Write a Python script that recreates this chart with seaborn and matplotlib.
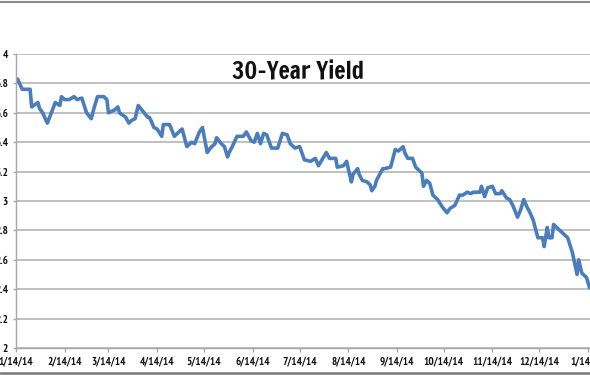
import pandas as pd
import numpy as np
import matplotlib
matplotlib.use("Agg")
import matplotlib.pyplot as plt
import matplotlib.dates as mdates
from matplotlib.ticker import FuncFormatter
import seaborn as sns

# Data
dates = [
    "2014-01-14", "2014-01-15", "2014-01-18", "2014-01-23", "2014-01-24", "2014-01-28", "2014-01-29",
    "2014-01-31", "2014-02-03", "2014-02-07", "2014-02-08", "2014-02-11", "2014-02-12", "2014-02-14",
    "2014-02-17", "2014-02-20", "2014-02-22", "2014-02-25", "2014-02-28", "2014-03-03", "2014-03-05",
    "2014-03-07", "2014-03-11", "2014-03-13", "2014-03-14", "2014-03-18", "2014-03-20", "2014-03-21",
    "2014-03-25", "2014-03-27", "2014-03-29", "2014-03-31", "2014-04-02", "2014-04-08", "2014-04-09",
    "2014-04-10", "2014-04-12", "2014-04-14", "2014-04-17", "2014-04-18", "2014-04-22", "2014-04-25",
    "2014-04-30", "2014-05-03", "2014-05-06", "2014-05-08", "2014-05-11", "2014-05-13", "2014-05-16",
    "2014-05-18", "2014-05-21", "2014-05-22", "2014-05-25", "2014-05-27", "2014-05-29", "2014-05-30",
    "2014-06-01", "2014-06-04", "2014-06-08", "2014-06-10", "2014-06-13", "2014-06-15", "2014-06-17",
    "2014-06-19", "2014-06-21", "2014-06-23", "2014-06-26", "2014-06-30", "2014-07-03", "2014-07-06",
    "2014-07-08", "2014-07-11", "2014-07-14", "2014-07-17", "2014-07-21", "2014-07-24", "2014-07-26",
    "2014-07-31", "2014-08-02", "2014-08-06", "2014-08-07", "2014-08-11", "2014-08-13", "2014-08-14",
    "2014-08-16", "2014-08-17", "2014-08-20", "2014-08-21", "2014-08-23", "2014-08-26", "2014-08-28",
    "2014-08-29", "2014-08-31", "2014-09-01", "2014-09-03", "2014-09-05", "2014-09-06", "2014-09-10",
    "2014-09-11", "2014-09-13", "2014-09-15", "2014-09-18", "2014-09-19", "2014-09-21", "2014-09-24",
    "2014-09-26", "2014-09-28", "2014-09-30", "2014-10-01", "2014-10-03", "2014-10-05", "2014-10-07",
    "2014-10-10", "2014-10-13", "2014-10-16", "2014-10-18", "2014-10-21", "2014-10-24", "2014-10-26",
    "2014-10-29", "2014-10-31", "2014-11-02", "2014-11-06", "2014-11-07", "2014-11-09", "2014-11-11",
    "2014-11-14", "2014-11-16", "2014-11-19", "2014-11-20", "2014-11-23", "2014-11-25", "2014-11-27",
    "2014-11-30", "2014-12-02", "2014-12-04", "2014-12-06", "2014-12-08", "2014-12-10", "2014-12-13",
    "2014-12-16", "2014-12-17", "2014-12-19", "2014-12-20", "2014-12-22", "2014-12-23", "2014-12-27",
    "2015-01-01", "2015-01-04", "2015-01-06", "2015-01-07", "2015-01-08", "2015-01-10", "2015-01-13",
    "2015-01-15",
]
yields = [
    3.81, 3.83, 3.76, 3.76, 3.64, 3.67, 3.63,
    3.60, 3.53, 3.64, 3.67, 3.65, 3.71, 3.69,
    3.69, 3.71, 3.69, 3.70, 3.60, 3.56, 3.64,
    3.71, 3.71, 3.69, 3.60, 3.62, 3.64, 3.60,
    3.57, 3.53, 3.55, 3.56, 3.65, 3.57, 3.57,
    3.55, 3.50, 3.49, 3.44, 3.52, 3.52, 3.44,
    3.49, 3.37, 3.40, 3.39, 3.47, 3.50, 3.33,
    3.36, 3.39, 3.43, 3.39, 3.37, 3.30, 3.33,
    3.37, 3.44, 3.44, 3.47, 3.41, 3.40, 3.46,
    3.39, 3.46, 3.45, 3.36, 3.36, 3.46, 3.45,
    3.39, 3.36, 3.37, 3.28, 3.27, 3.29, 3.24,
    3.33, 3.29, 3.29, 3.23, 3.24, 3.27, 3.22,
    3.13, 3.18, 3.22, 3.18, 3.14, 3.13, 3.11,
    3.07, 3.10, 3.14, 3.18, 3.22, 3.22, 3.23,
    3.27, 3.35, 3.34, 3.37, 3.33, 3.29, 3.29,
    3.23, 3.21, 3.19, 3.10, 3.14, 3.12, 3.04,
    3.01, 2.96, 2.92, 2.95, 2.97, 3.04, 3.04,
    3.06, 3.05, 3.06, 3.06, 3.10, 3.03, 3.09,
    3.10, 3.05, 3.05, 3.07, 3.02, 3.01, 2.97,
    2.89, 2.94, 3.01, 2.96, 2.92, 2.87, 2.75,
    2.75, 2.69, 2.82, 2.75, 2.75, 2.84, 2.80,
    2.75, 2.65, 2.55, 2.50, 2.60, 2.51, 2.48,
    2.41,
]
y_ticks = [2.0, 2.2, 2.4, 2.6, 2.8, 3.0, 3.2, 3.4, 3.6, 3.8, 4.0]
title = "30-Year Yield"

df = pd.DataFrame({"date": pd.to_datetime(dates), "yield": yields})

sns.set_style("white")
plt.rcParams["font.family"] = ["PT Sans Narrow", "DejaVu Sans"]

fig = plt.figure(figsize=(5.9, 3.75), dpi=100)
ax = fig.add_axes([16 / 590, 27 / 375, 574 / 590, 294 / 375])

sns.lineplot(data=df, x="date", y="yield", ax=ax, color="#4a7ebb", linewidth=2.6)

ax.set_xlim(pd.Timestamp("2014-01-14"), pd.Timestamp("2015-01-15 06:00"))
ax.set_ylim(2, 4)
ax.set_yticks(y_ticks)
ax.yaxis.set_major_formatter(FuncFormatter(lambda v, p: f"{round(v, 1):g}"))
ax.xaxis.set_major_locator(mdates.MonthLocator(bymonthday=14))
ax.xaxis.set_major_formatter(FuncFormatter(
    lambda v, p: (lambda d: f"{d.month}/{d.day}/{d:%y}")(mdates.num2date(v))))

ax.set_xlabel("")
ax.set_ylabel("")
ax.yaxis.grid(True, color="#b5b5b5", linewidth=1.2)
ax.xaxis.grid(False)
ax.set_axisbelow(True)
for s in ["top", "right"]:
    ax.spines[s].set_visible(False)
for s in ["left", "bottom"]:
    ax.spines[s].set_color("#a8a8a8")
    ax.spines[s].set_linewidth(1.0)

ax.tick_params(axis="x", bottom=True, length=3, width=1, color="#a8a8a8", pad=3.2,
               labelsize=8, labelcolor="#111111")
ax.tick_params(axis="y", left=True, length=2.5, width=1, color="#a8a8a8", pad=3.2,
               labelsize=8, labelcolor="#111111")
for lab in ax.get_xticklabels() + ax.get_yticklabels():
    lab.set_fontweight("bold")

fig.text(0.505, 0.808, title, ha="center", va="center", fontsize=17,
         family=["Francois One", "DejaVu Sans"], color="#111111")

# chart frame lines at top and bottom
fig.add_artist(plt.Line2D([0, 1], [0.996, 0.996], transform=fig.transFigure,
                          color="#8a8a8a", linewidth=1.5))
fig.add_artist(plt.Line2D([0, 1], [0.005, 0.005], transform=fig.transFigure,
                          color="#7a7a7a", linewidth=1.8))

fig.savefig("out.png", dpi=100)
